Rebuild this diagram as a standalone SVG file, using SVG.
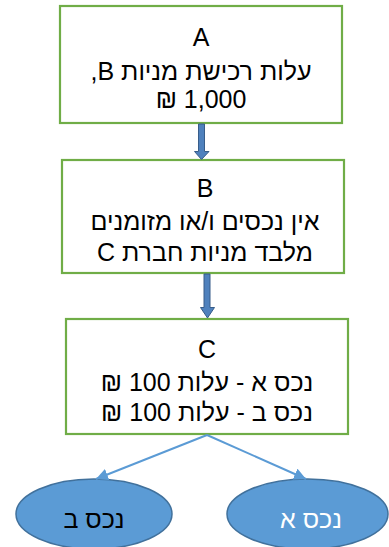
<svg xmlns="http://www.w3.org/2000/svg" width="389" height="547" viewBox="0 0 389 547">
<style>
.box{fill:#fff;stroke:#70ad47;stroke-width:2.2}
.t{font-family:"Liberation Sans","DejaVu Sans",sans-serif;font-size:25px;fill:#000;text-anchor:middle}
.el{fill:#5b9bd5;stroke:#41719c;stroke-width:1.5}
.et{font-family:"Liberation Sans","DejaVu Sans",sans-serif;font-size:25px;text-anchor:middle}
.blk{fill:#4f81bd;stroke:#385d8a;stroke-width:1}
.con{stroke:#5b9bd5;stroke-width:2;fill:none}
</style>
<defs>
<marker id="ah" viewBox="0 0 10 10" refX="10" refY="5" markerWidth="6" markerHeight="6" orient="auto" markerUnits="strokeWidth">
<path d="M0,0 L10,5 L0,10 z" fill="#5b9bd5"/>
</marker>
</defs>
<g id="nodeA">
<rect class="box" x="60" y="6" width="282" height="117"/>
<text class="t" x="201" y="46">A</text>
<text class="t" x="201" y="80" direction="rtl">עלות רכישת מניות B,</text>
<text class="t" x="201" y="108" direction="rtl">1,000 ₪</text>
</g>
<g id="nodeB">
<rect class="box" x="62" y="160" width="282" height="113"/>
<text class="t" x="205" y="197">B</text>
<text class="t" x="205" y="230" direction="rtl">אין נכסים ו/או מזומנים</text>
<text class="t" x="205" y="261" direction="rtl">מלבד מניות חברת C</text>
</g>
<g id="nodeC">
<rect class="box" x="66" y="319" width="282" height="115"/>
<text class="t" x="207" y="358">C</text>
<text class="t" x="207" y="391" direction="rtl">נכס א - עלות 100 ₪</text>
<text class="t" x="207" y="421" direction="rtl">נכס ב - עלות 100 ₪</text>
</g>
<g id="nodeAssetB">
<ellipse class="el" cx="94" cy="514" rx="78" ry="35"/>
<text class="et" x="94" y="528" fill="#000" direction="rtl">נכס ב</text>
</g>
<g id="nodeAssetA">
<ellipse class="el" cx="307.5" cy="514" rx="80.5" ry="35"/>
<text class="et" x="311" y="528" fill="#fff" direction="rtl">נכס א</text>
</g>
<g id="connectors">
<path class="blk" d="M198.5,124 H204.5 V151.5 H209 L201.5,159.5 L194.5,151.5 H198.5 Z"/>
<path class="blk" d="M204,274 H210 V307.5 H214.5 L207.5,318 L200.5,307.5 H204 Z"/>
<line class="con" x1="207" y1="435" x2="96" y2="479" marker-end="url(#ah)"/>
<line class="con" x1="207" y1="435" x2="306" y2="479" marker-end="url(#ah)"/>
</g>
</svg>
